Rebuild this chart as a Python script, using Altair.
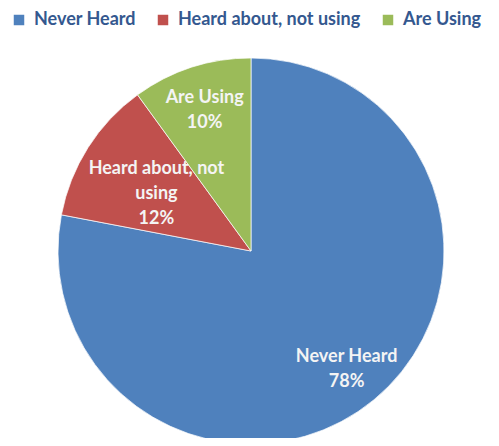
import altair as alt
import pandas as pd

categories = ["Never Heard", "Heard about, not using", "Are Using"]
values = [78, 12, 10]
label_texts = ["Never Heard\n78%", "Heard about, not\nusing\n12%", "Are Using\n10%"]
colors = ["#4F81BD", "#C0504D", "#9BBB59"]

df = pd.DataFrame({
    "category": categories,
    "value": values,
    "label": label_texts,
    "order": list(range(len(categories))),
})

base = alt.Chart(df).encode(
    theta=alt.Theta("value:Q", stack=True),
    order=alt.Order("order:Q"),
    x=alt.value(243),
    y=alt.value(243),
)

pie = base.mark_arc(radius=193, stroke="#ffffff", strokeWidth=1, strokeOpacity=0.7).encode(
    color=alt.Color(
        "category:N",
        scale=alt.Scale(domain=categories, range=colors),
        sort=categories,
        legend=alt.Legend(
            title=None,
            orient="none",
            legendX=2,
            legendY=3,
            direction="horizontal",
            symbolType="square",
            symbolSize=110,
            symbolStrokeWidth=0,
            labelFont="Lato",
            labelFontWeight="bold",
            labelFontSize=18,
            labelColor="#34588F",
            labelLimit=300,
            columnPadding=18,
            symbolOffset=0,
            labelOffset=6,
        ),
    ),
)

outer_labels = base.transform_calculate(
    txt="datum.category == 'Heard about, not using' ? '' : datum.label"
).mark_text(
    radius=150, font="Lato", fontWeight="bold", fontSize=18, color="#F4F4F4",
    lineBreak="\n", align="center", baseline="middle", lineHeight=25, dy=-10,
).encode(text="txt:N")

inner_labels = base.transform_calculate(
    txt="datum.category == 'Heard about, not using' ? datum.label : ''"
).mark_text(
    radius=112, font="Lato", fontWeight="bold", fontSize=18, color="#F4F4F4",
    lineBreak="\n", align="center", baseline="middle", lineHeight=25, dy=-22,
).encode(text="txt:N")

chart = alt.layer(pie, outer_labels, inner_labels).properties(
    width=483, height=430,
    autosize=alt.AutoSizeParams(type="none"),
    padding=0,
).configure_view(stroke=None)

chart.save("out.html", embed_options={"renderer": "svg", "actions": False})
